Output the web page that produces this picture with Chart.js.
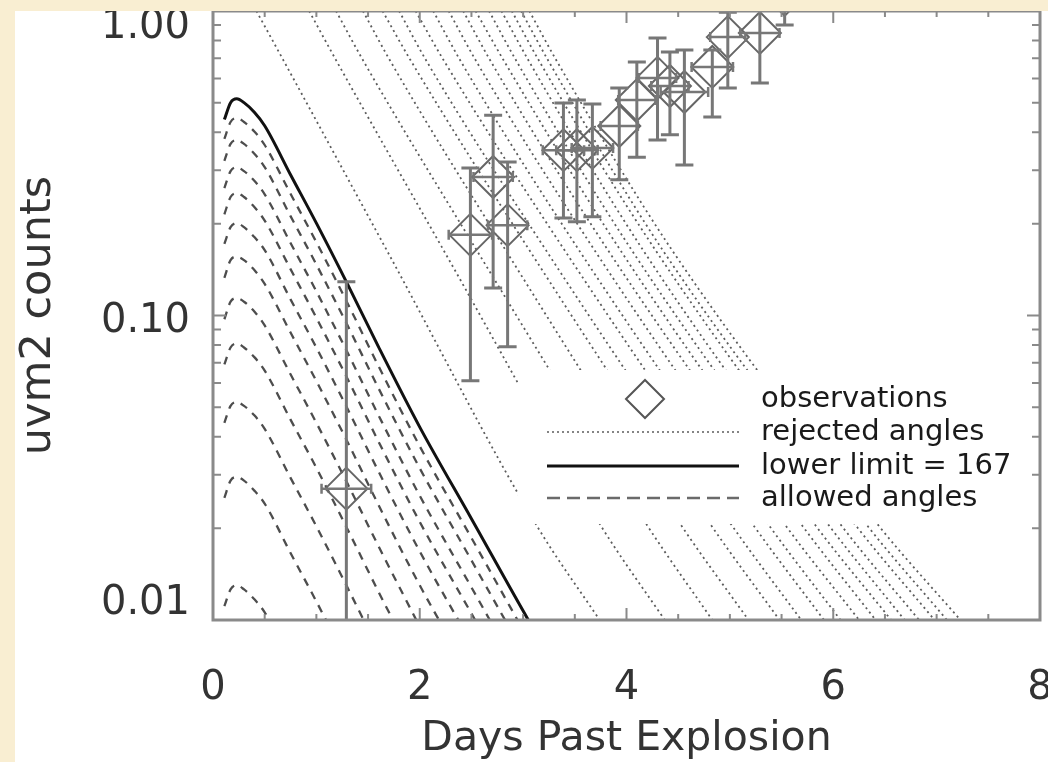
<!DOCTYPE html>
<html>
<head>
<meta charset="utf-8">
<script src="https://cdn.jsdelivr.net/npm/chart.js@4.4.1/dist/chart.umd.min.js"></script>
<style>
  html, body { margin: 0; padding: 0; background: #f9eed2; }
  body { width: 1048px; height: 762px; overflow: hidden; position: relative; }
  #wrap { position: absolute; left: 15px; top: 11px; width: 1033px; height: 751px; background: #ffffff; }
  canvas { display: block; }
</style>
</head>
<body>
<div id="wrap"><canvas id="c" width="1033" height="751"></canvas></div>
<script>
// ---------------- data ----------------
const xTickValues = [0, 2, 4, 6, 8];
const xTickLabels = ['0', '2', '4', '6', '8'];
const yTickValues = [0.01, 0.1, 1];
const yTickLabels = ['0.01', '0.10', '1.00'];
const xTitle = 'Days Past Explosion';
const yTitle = 'uvm2 counts';
const legendLabels = ['observations', 'rejected angles', 'lower limit = 167', 'allowed angles'];

// observations (diamonds with error bars)
const obsDays       = [1.29, 2.49, 2.71, 2.85, 3.39, 3.52, 3.67, 3.93, 4.10, 4.30, 4.42, 4.56, 4.83, 4.98, 5.29, 5.53];
const obsCounts     = [0.027, 0.184, 0.285, 0.198, 0.349, 0.349, 0.355, 0.419, 0.510, 0.603, 0.567, 0.542, 0.655, 0.821, 0.847, 1.13];
const obsCountsLow  = [0.004, 0.061, 0.123, 0.079, 0.209, 0.203, 0.211, 0.279, 0.331, 0.377, 0.392, 0.312, 0.449, 0.559, 0.580, 0.90];
const obsCountsHigh = [0.129, 0.305, 0.455, 0.319, 0.499, 0.510, 0.495, 0.559, 0.680, 0.815, 0.733, 0.745, 0.745, 0.99, 1.25, 1.40];
const obsDaysErr    = [0.24, 0.21, 0.19, 0.19, 0.20, 0.20, 0.20, 0.18, 0.18, 0.18, 0.18, 0.23, 0.20, 0.17, 0.19, 0.19];

// model light curves, allowed family (solid lower limit + dashed allowed angles)
const modelDays = [0.11, 0.17, 0.23, 0.30, 0.40, 0.50, 0.75, 1.0, 1.3, 1.6, 2.0, 2.5, 3.05, 3.6];
const lowerLimitCounts = [0.44, 0.50, 0.515, 0.50, 0.465, 0.42, 0.29, 0.201, 0.127, 0.079, 0.043, 0.0215, 0.010, 0.0048];
const allowedCounts = [
  [0.380, 0.432, 0.445, 0.432, 0.402, 0.363, 0.251, 0.174, 0.110, 0.0683, 0.0372, 0.0186, 0.00864],
  [0.322, 0.366, 0.377, 0.366, 0.340, 0.307, 0.212, 0.147, 0.0930, 0.0578, 0.0315, 0.0157, 0.00732],
  [0.262, 0.298, 0.307, 0.298, 0.277, 0.250, 0.173, 0.120, 0.0757, 0.0471, 0.0256, 0.0128, 0.00596],
  [0.215, 0.245, 0.252, 0.245, 0.227, 0.205, 0.142, 0.0983, 0.0621, 0.0386, 0.0210, 0.0105, 0.00489],
  [0.172, 0.195, 0.201, 0.195, 0.181, 0.164, 0.113, 0.0784, 0.0495, 0.0308, 0.0168, 0.00839],
  [0.133, 0.152, 0.156, 0.152, 0.141, 0.127, 0.0879, 0.0609, 0.0385, 0.0239, 0.0130, 0.00651],
  [0.0972, 0.111, 0.114, 0.111, 0.103, 0.0928, 0.0641, 0.0444, 0.0281, 0.0175, 0.00950],
  [0.0691, 0.0785, 0.0809, 0.0785, 0.0730, 0.0659, 0.0455, 0.0316, 0.0199, 0.0124, 0.00675],
  [0.0444, 0.0505, 0.0520, 0.0505, 0.0470, 0.0424, 0.0293, 0.0203, 0.0128, 0.00798],
  [0.0252, 0.0287, 0.0295, 0.0287, 0.0266, 0.0241, 0.0166, 0.0115, 0.00728],
  [0.0111, 0.0126, 0.0130, 0.0126, 0.0117, 0.0106, 0.00731]
];

// rejected angles (dotted): day at which each curve crosses these count levels
const rejectedLevels = [1.0, 0.69, 0.164, 0.0202, 0.01];
const rejectedDays = [
  [0.42, 0.68, 1.68, 3.14, 3.74],
  [0.93, 1.19, 2.23, 3.76, 4.37],
  [1.19, 1.45, 2.55, 4.21, 4.83],
  [1.45, 1.71, 2.83, 4.54, 5.18],
  [1.64, 1.91, 3.06, 4.83, 5.48],
  [1.80, 2.06, 3.22, 5.03, 5.69],
  [1.96, 2.23, 3.40, 5.24, 5.91],
  [2.13, 2.39, 3.54, 5.39, 6.07],
  [2.28, 2.54, 3.69, 5.55, 6.25],
  [2.42, 2.68, 3.82, 5.71, 6.41],
  [2.54, 2.81, 3.94, 5.84, 6.56],
  [2.67, 2.93, 4.05, 5.97, 6.69],
  [2.79, 3.05, 4.16, 6.09, 6.83],
  [2.89, 3.15, 4.28, 6.23, 6.98],
  [2.98, 3.24, 4.35, 6.34, 7.10],
  [3.06, 3.32, 4.44, 6.45, 7.23]
];

// ---------------- chart ----------------
const FONT = "'DejaVu Sans', 'Liberation Sans', sans-serif";
const GREY_AXIS = '#8a8a8a';

const datasets = [];
datasets.push({
  label: legendLabels[0],
  data: obsDays.map((d, i) => ({ x: d, y: obsCounts[i] })),
  showLine: false,
  pointStyle: 'rectRot',
  pointRadius: 21,
  pointHoverRadius: 21,
  pointBorderWidth: 2,
  pointBorderColor: '#666666',
  pointBackgroundColor: 'rgba(0,0,0,0)'
});
datasets.push({
  label: legendLabels[2],
  data: lowerLimitCounts.map((v, i) => ({ x: modelDays[i], y: v })),
  borderColor: '#111111',
  borderWidth: 3,
  pointRadius: 0,
  cubicInterpolationMode: 'monotone'
});
allowedCounts.forEach(curve => datasets.push({
  label: legendLabels[3],
  data: curve.map((v, i) => ({ x: modelDays[i], y: v })),
  borderColor: '#4d4d4d',
  borderWidth: 2.3,
  borderDash: [8, 7],
  pointRadius: 0,
  cubicInterpolationMode: 'monotone'
}));
rejectedDays.forEach(curve => datasets.push({
  label: legendLabels[1],
  data: curve.map((d, i) => ({ x: d, y: rejectedLevels[i] })),
  borderColor: '#5c5c5c',
  borderWidth: 1.8,
  borderDash: [2, 3.5],
  pointRadius: 0,
  cubicInterpolationMode: 'monotone'
}));

const overlay = {
  id: 'overlay',
  afterDatasetsDraw(chart) {
    const { ctx, chartArea: a, scales: { x, y } } = chart;
    ctx.save();
    ctx.beginPath();
    ctx.rect(a.left, a.top, a.right - a.left, a.bottom - a.top);
    ctx.clip();
    // error bars
    ctx.strokeStyle = '#777777';
    obsDays.forEach((d, i) => {
      const px = x.getPixelForValue(d);
      const py = y.getPixelForValue(obsCounts[i]);
      const yl = y.getPixelForValue(obsCountsLow[i]);
      const yh = y.getPixelForValue(obsCountsHigh[i]);
      const xl = x.getPixelForValue(d - obsDaysErr[i]);
      const xh = x.getPixelForValue(d + obsDaysErr[i]);
      ctx.lineWidth = 3;
      ctx.beginPath();
      ctx.moveTo(px, yl); ctx.lineTo(px, yh);
      ctx.moveTo(px - 9, yl); ctx.lineTo(px + 9, yl);
      ctx.moveTo(px - 9, yh); ctx.lineTo(px + 9, yh);
      ctx.stroke();
      ctx.lineWidth = 2.5;
      ctx.beginPath();
      ctx.moveTo(xl, py); ctx.lineTo(xh, py);
      ctx.moveTo(xl, py - 5); ctx.lineTo(xl, py + 5);
      ctx.moveTo(xh, py - 5); ctx.lineTo(xh, py + 5);
      ctx.stroke();
    });
    // legend box
    const L = a.left, T = a.top;
    ctx.fillStyle = '#ffffff';
    ctx.fillRect(L + 305, T + 359, a.right - (L + 305) - 2, 154);
    const rows = [388, 421, 455, 487].map(r => T + r);
    const s0 = L + 334, s1 = L + 526, tx = L + 548;
    ctx.setLineDash([]);
    ctx.strokeStyle = '#555555';
    ctx.lineWidth = 2;
    const cx = L + 432, cy = rows[0], r = 19;
    ctx.beginPath();
    ctx.moveTo(cx - r, cy); ctx.lineTo(cx, cy - r); ctx.lineTo(cx + r, cy); ctx.lineTo(cx, cy + r);
    ctx.closePath();
    ctx.stroke();
    ctx.strokeStyle = '#5c5c5c'; ctx.lineWidth = 1.6; ctx.setLineDash([2, 3]);
    ctx.beginPath(); ctx.moveTo(s0, rows[1]); ctx.lineTo(s1, rows[1]); ctx.stroke();
    ctx.setLineDash([]); ctx.strokeStyle = '#111111'; ctx.lineWidth = 3;
    ctx.beginPath(); ctx.moveTo(s0, rows[2]); ctx.lineTo(s1, rows[2]); ctx.stroke();
    ctx.setLineDash([13, 7]); ctx.strokeStyle = '#6a6a6a'; ctx.lineWidth = 2.5;
    ctx.beginPath(); ctx.moveTo(s0, rows[3]); ctx.lineTo(s1, rows[3]); ctx.stroke();
    ctx.setLineDash([]);
    ctx.fillStyle = '#1a1a1a';
    ctx.font = "29px " + FONT;
    ctx.textBaseline = 'middle';
    ctx.textAlign = 'left';
    legendLabels.forEach((t, i) => ctx.fillText(t, tx, rows[i]));
    ctx.restore();
  }
};

const frame = {
  id: 'frame',
  afterDraw(chart) {
    const { ctx, chartArea: a, scales: { x, y } } = chart;
    ctx.save();
    ctx.strokeStyle = GREY_AXIS;
    ctx.lineWidth = 2;
    ctx.beginPath();
    for (let d = 0; d <= 8; d += 0.5) {
      const px = x.getPixelForValue(d);
      const len = xTickValues.includes(d) ? 12 : 6;
      ctx.moveTo(px, a.bottom); ctx.lineTo(px, a.bottom - len);
      ctx.moveTo(px, a.top); ctx.lineTo(px, a.top + len);
    }
    const yt = [];
    [0.01, 0.1].forEach(dec => { for (let m = 1; m <= 9; m++) yt.push([m * dec, m === 1]); });
    yt.push([1, true]);
    yt.forEach(([v, major]) => {
      const py = y.getPixelForValue(v);
      const len = major ? 13 : 8;
      ctx.moveTo(a.left, py); ctx.lineTo(a.left + len, py);
      ctx.moveTo(a.right, py); ctx.lineTo(a.right - len, py);
    });
    ctx.stroke();
    ctx.lineWidth = 3;
    ctx.strokeRect(a.left, a.top, a.right - a.left, a.bottom - a.top);
    ctx.restore();
  }
};

new Chart(document.getElementById('c'), {
  type: 'line',
  data: { datasets },
  options: {
    responsive: false,
    animation: false,
    devicePixelRatio: 1,
    events: [],
    layout: { autoPadding: false, padding: { left: 0, top: 0, right: 8, bottom: 0 } },
    plugins: { legend: { display: false }, tooltip: { enabled: false }, title: { display: false } },
    scales: {
      x: {
        type: 'linear', position: 'bottom', min: 0, max: 8,
        grid: { display: false, drawTicks: false },
        border: { display: false },
        afterBuildTicks: s => { s.ticks = xTickValues.map(v => ({ value: v })); },
        ticks: {
          padding: 45, color: '#333333', maxRotation: 0, autoSkip: false,
          font: { family: FONT, size: 40 },
          callback: v => xTickLabels[xTickValues.indexOf(v)]
        },
        title: {
          display: true, text: xTitle, color: '#333333',
          font: { family: FONT, size: 41, lineHeight: 1.1 },
          padding: { top: 0, bottom: 0 }
        },
        afterFit: s => { s.height = 142; s.paddingLeft = 0; s.paddingRight = 0; }
      },
      y: {
        type: 'logarithmic', position: 'left', min: 0.01, max: 1,
        grid: { display: false, drawTicks: false },
        border: { display: false },
        afterBuildTicks: s => { s.ticks = yTickValues.map(v => ({ value: v })); },
        ticks: {
          padding: 23, labelOffset: 6, color: '#333333', autoSkip: false,
          font: { family: FONT, size: 40, lineHeight: 0.55 },
          callback: v => {
            const k = yTickValues.indexOf(v);
            if (k < 0) return '';
            const t = yTickLabels[k];
            if (k === 0) return [t, '', ''];
            if (k === yTickValues.length - 1) return ['', t];
            return t;
          }
        },
        title: {
          display: true, text: yTitle, color: '#333333',
          font: { family: FONT, size: 43, lineHeight: 1.1 },
          padding: { top: 0, bottom: 0 }
        },
        afterFit: s => { s.width = 198; s.paddingTop = 0; s.paddingBottom = 0; }
      }
    }
  },
  plugins: [overlay, frame]
});
</script>
</body>
</html>
